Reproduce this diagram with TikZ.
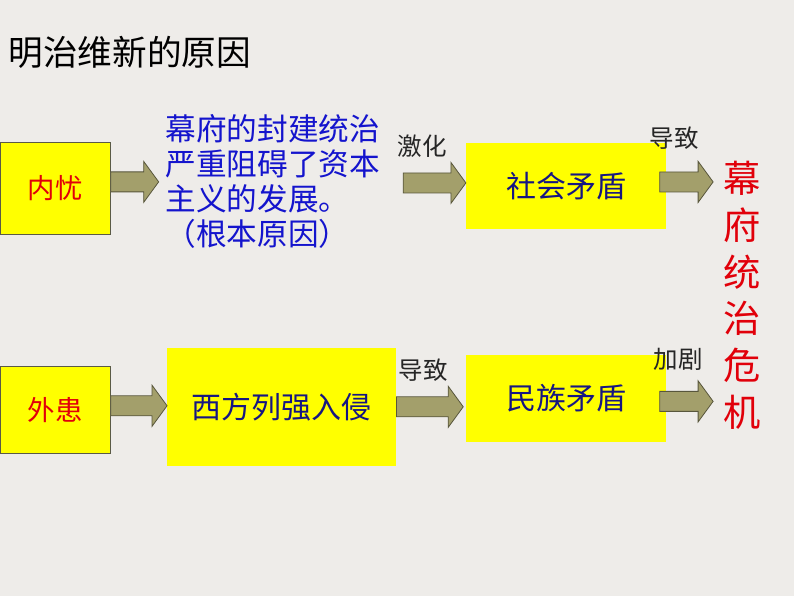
\documentclass[tikz,border=0pt]{standalone}
\usepackage{fontspec}
\usepackage{xcolor}
\usetikzlibrary{calc}
\setmainfont{Noto Sans CJK SC}
\definecolor{paper}{RGB}{238,236,233}
\definecolor{boxyellow}{RGB}{255,255,0}
\definecolor{boxedge}{RGB}{90,90,70}
\definecolor{arrowfill}{RGB}{163,159,107}
\definecolor{arrowedge}{RGB}{88,86,60}
\definecolor{redtext}{RGB}{225,0,10}
\definecolor{bluetext}{RGB}{20,20,205}
\definecolor{navytext}{RGB}{22,22,130}
\newcommand{\fatarrow}[2]{%
  \path[fatarrow] let \p1=(#1), \p2=(#2) in
    (\x1,\y1+7.5pt) -- (\x2-11.25pt,\y1+7.5pt) -- (\x2-11.25pt,\y1+15.4pt)
    -- (\x2,\y1) -- (\x2-11.25pt,\y1-15.4pt) -- (\x2-11.25pt,\y1-7.5pt)
    -- (\x1,\y1-7.5pt) -- cycle;}
\begin{document}
\begin{tikzpicture}[x=0.75pt,y=-0.75pt,
            box/.style={fill=boxyellow,inner sep=0pt,font=\fontsize{22.5}{26}\selectfont,text=navytext},
            redbox/.style={box,draw=boxedge,line width=0.6pt,text=redtext,font=\fontsize{20.6}{24}\selectfont},
            fatarrow/.style={fill=arrowfill,draw=arrowedge,line width=0.6pt},
            cue/.style={font=\fontsize{18.4}{22}\selectfont,text=black!85}]
            \fill[paper] (0,0) rectangle (794,596);
            \node (title) at (8,52) [anchor=west,inner sep=0pt,font=\fontsize{26}{30}\selectfont] {明治维新的原因};
            \node (neiyou) at (55,188.5) [redbox,minimum width=110*0.75pt,minimum height=93*0.75pt] {内忧};
            \node (waihuan) at (55,410.5) [redbox,minimum width=110*0.75pt,minimum height=87*0.75pt] {外患};
            \node (yuanyin) at (165,181.5) [anchor=west,inner sep=0pt,align=left,text=bluetext,font=\fontsize{23}{26.3}\selectfont] {幕府的封建统治\\严重阻碍了资本\\主义的发展。\\（根本原因）};
            \node (shehui) at (566,186) [box,minimum width=200*0.75pt,minimum height=86*0.75pt] {社会矛盾};
            \node (xifang) at (281.5,407) [box,minimum width=229*0.75pt,minimum height=118*0.75pt] {西方列强入侵};
            \node (minzu) at (566,398.5) [box,minimum width=200*0.75pt,minimum height=87*0.75pt] {民族矛盾};
            \node (weiji) at (742,295.5) [inner sep=0pt,align=center,text=redtext,font=\fontsize{28}{35}\selectfont] {幕\\府\\统\\治\\危\\机};
            \node (jihua) at (422,146) [cue] {激化};
            \node (daozhi1) at (674,138) [cue] {导致};
            \node (daozhi2) at (423,370) [cue] {导致};
            \node (jiaju) at (678,360) [cue] {加剧};
            \coordinate (s2) at (403,183);
            \fatarrow{[yshift=4.9pt]neiyou.east}{[xshift=-5pt]yuanyin.west}
            \fatarrow{s2}{shehui.west}
            \fatarrow{[xshift=-5pt,yshift=3pt]shehui.east}{[xshift=-7.5pt]weiji.west}
            \fatarrow{[yshift=3.4pt]waihuan.east}{xifang.west}
            \fatarrow{xifang.east}{[xshift=-2pt]minzu.west}
            \fatarrow{[xshift=-5pt,yshift=-2.3pt]minzu.east}{[xshift=-7.5pt]weiji.west}
        \end{tikzpicture}
\end{document}
